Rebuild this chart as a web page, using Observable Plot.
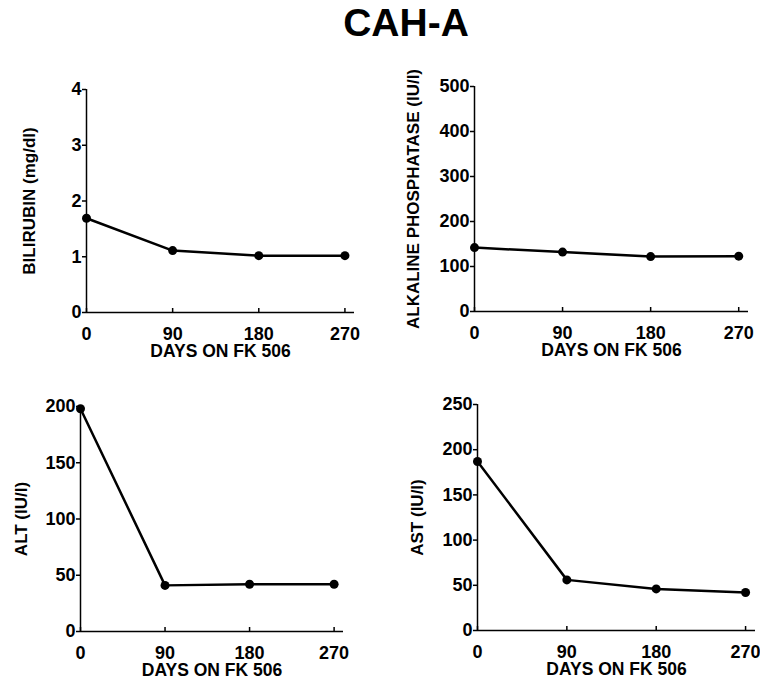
<!DOCTYPE html>
<html>
<head>
<meta charset="utf-8">
<script src="https://cdn.jsdelivr.net/npm/d3@7"></script>
<script src="https://cdn.jsdelivr.net/npm/@observablehq/plot@0.6"></script>
<style>
  html, body { margin: 0; padding: 0; background: #fff; }
  #wrap { position: relative; width: 760px; height: 679px; overflow: hidden; font-family: "Liberation Sans", Arial, sans-serif; }
  #title { position: absolute; left: 0; top: 3px; width: 812px; text-align: center; font-size: 39px; line-height: 39px; font-weight: bold; color: #000; }
  .panel { position: absolute; }
</style>
</head>
<body>
<div id="wrap">
  <div id="title">CAH-A</div>
</div>
<script>
const days = [0, 90, 180, 270];
const bilirubin = [1.69, 1.11, 1.02, 1.02];
const alkPhos = [142, 132, 122, 123];
const alt = [198, 41, 42, 42];
const ast = [187, 56, 46, 42];

const bilirubinTicks = [0, 1, 2, 3, 4];
const alkPhosTicks = [0, 100, 200, 300, 400, 500];
const altTicks = [0, 50, 100, 150, 200];
const astTicks = [0, 50, 100, 150, 200, 250];

const xLabel = "DAYS ON FK 506";
const yLabels = ["BILIRUBIN (mg/dl)", "ALKALINE PHOSPHATASE (IU/l)", "ALT (IU/l)", "AST (IU/l)"];

const panels = [
  {values: bilirubin, ticks: bilirubinTicks, label: yLabels[0], left: 0, top: 60, width: 380, height: 320,
   m: [29, 26, 68, 86], labelDx: -57, xLabelDy: 32},
  {values: alkPhos, ticks: alkPhosTicks, label: yLabels[1], left: 380, top: 60, width: 380, height: 320,
   m: [26, 12, 69, 94], labelDx: -61, xLabelDy: 32},
  {values: alt, ticks: altTicks, label: yLabels[2], left: 0, top: 380, width: 380, height: 299,
   m: [26, 37, 48, 80], labelDx: -59, xLabelDy: 32},
  {values: ast, ticks: astTicks, label: yLabels[3], left: 380, top: 380, width: 380, height: 299,
   m: [24, 5, 49, 97], labelDx: -60, xLabelDy: 32}
];

const wrap = document.getElementById("wrap");
for (const p of panels) {
  const [mt, mr, mb, ml] = p.m;
  const frameH = p.height - mt - mb;
  const data = p.values.map((v, i) => ({day: days[i], value: v}));
  const chart = Plot.plot({
    width: p.width,
    height: p.height,
    marginTop: mt, marginRight: mr, marginBottom: mb, marginLeft: ml,
    style: {fontFamily: "'Liberation Sans', Arial, sans-serif", fontWeight: "bold", fontSize: "18px", color: "#000", background: "transparent", overflow: "visible"},
    x: {domain: [0, 280]},
    y: {domain: [0, d3.max(p.ticks)]},
    marks: [
      Plot.ruleY([0], {stroke: "#000", strokeWidth: 1.5}),
      Plot.ruleX([0], {stroke: "#000", strokeWidth: 1.5}),
      Plot.tickX(days, {x: d => d, insetTop: frameH - 4, stroke: "#000", strokeWidth: 1.5}),
      Plot.axisY({ticks: p.ticks, tickSize: 4, tickPadding: 1, label: null, tickFormat: d => String(d), strokeWidth: 1.5, fontSize: 18, fontWeight: "bold", fill: "#000"}),
      Plot.axisX({ticks: days, tickSize: 0, tickPadding: 15, label: null, tickFormat: d => String(d), fontSize: 18, fontWeight: "bold", fill: "#000"}),
      Plot.line(data, {x: "day", y: "value", stroke: "#000", strokeWidth: 2.5}),
      Plot.dot(data, {x: "day", y: "value", r: 4.5, fill: "#000", stroke: "none"}),
      Plot.text([p.label], {text: d => d, frameAnchor: "left", textAnchor: "middle", rotate: -90, dx: p.labelDx, fontSize: 17, fontWeight: "bold", fill: "#000"}),
      Plot.text([xLabel], {text: d => d, frameAnchor: "bottom", textAnchor: "middle", lineAnchor: "top", dy: p.xLabelDy, fontSize: 17.5, fontWeight: "bold", fill: "#000"})
    ]
  });
  chart.classList.add("panel");
  chart.style.left = p.left + "px";
  chart.style.top = p.top + "px";
  chart.style.position = "absolute";
  wrap.appendChild(chart);
}
</script>
</body>
</html>
